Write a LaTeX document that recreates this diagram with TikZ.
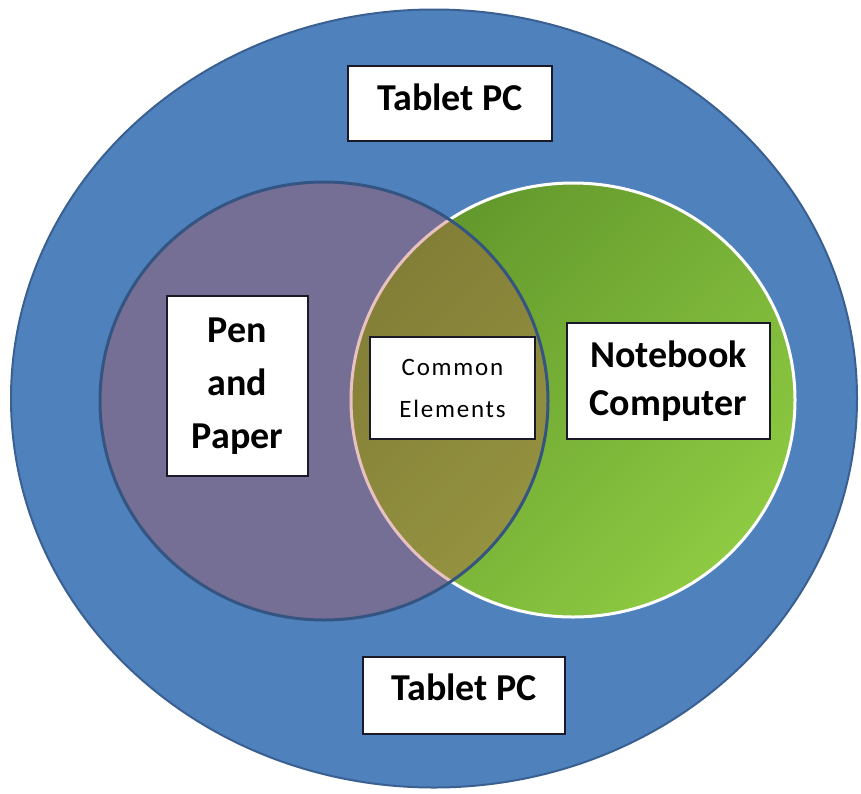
\documentclass[tikz,border=0pt]{standalone}
\usepackage{fontspec}
\setmainfont{Carlito}
\newfontfamily\commonfont[LetterSpace=7]{Carlito}
\definecolor{outerblue}{RGB}{79,129,189}
\definecolor{outerline}{RGB}{58,96,146}
\definecolor{penred}{RGB}{192,80,77}
\definecolor{penline}{RGB}{52,84,130}
\definecolor{greenA}{RGB}{98,152,44}
\definecolor{greenB}{RGB}{142,202,66}
\definecolor{boxline}{RGB}{25,25,40}
\begin{document}
\begin{tikzpicture}[x=1pt,y=-1pt,
  labelbox/.style={draw=boxline, line width=1.4pt, fill=white, inner sep=0pt, align=center, text=black},
  boldA/.style={font=\fontsize{38}{53}\selectfont\bfseries},
  boldB/.style={font=\fontsize{38}{48}\selectfont\bfseries},
  regtext/.style={font=\commonfont\fontsize{25}{42}\selectfont}]
\useasboundingbox (0,0) rectangle (861,793);
\fill[white] (0,0) rectangle (861,793);
% outer Tablet PC ellipse
\filldraw[fill=outerblue, draw=outerline, line width=2pt] (434,398.5) ellipse [x radius=423pt, y radius=389pt];
% notebook computer circle
\shade[top color=greenA, bottom color=greenB, shading angle=45] (573,400) ellipse [x radius=222pt, y radius=217pt];
\draw[white, line width=3pt] (573,400) ellipse [x radius=222pt, y radius=217pt];
% pen and paper circle
\fill[penred, fill opacity=0.35] (324,401) ellipse [x radius=224pt, y radius=219pt];
\draw[penline, line width=3pt] (324,401) ellipse [x radius=224pt, y radius=219pt];
% labels
\node[labelbox, boldA, minimum width=204pt, minimum height=75pt, text depth=13pt] (tabtop) at (450,103.5) {Tablet PC};
\node[labelbox, boldA, minimum width=202pt, minimum height=77pt, text depth=17pt] (tabbot) at (464,695.5) {Tablet PC};
\node[labelbox, boldA, minimum width=141pt, minimum height=180pt] (pen) at (237.5,386) {Pen\\and\\Paper};
\node[labelbox, boldB, minimum width=203pt, minimum height=116pt] (nb) at (668.5,381) {Notebook\\Computer};
\node[labelbox, regtext, minimum width=165pt, minimum height=102pt] (common) at (452.5,388) {Common\\Elements};
\end{tikzpicture}
\end{document}
